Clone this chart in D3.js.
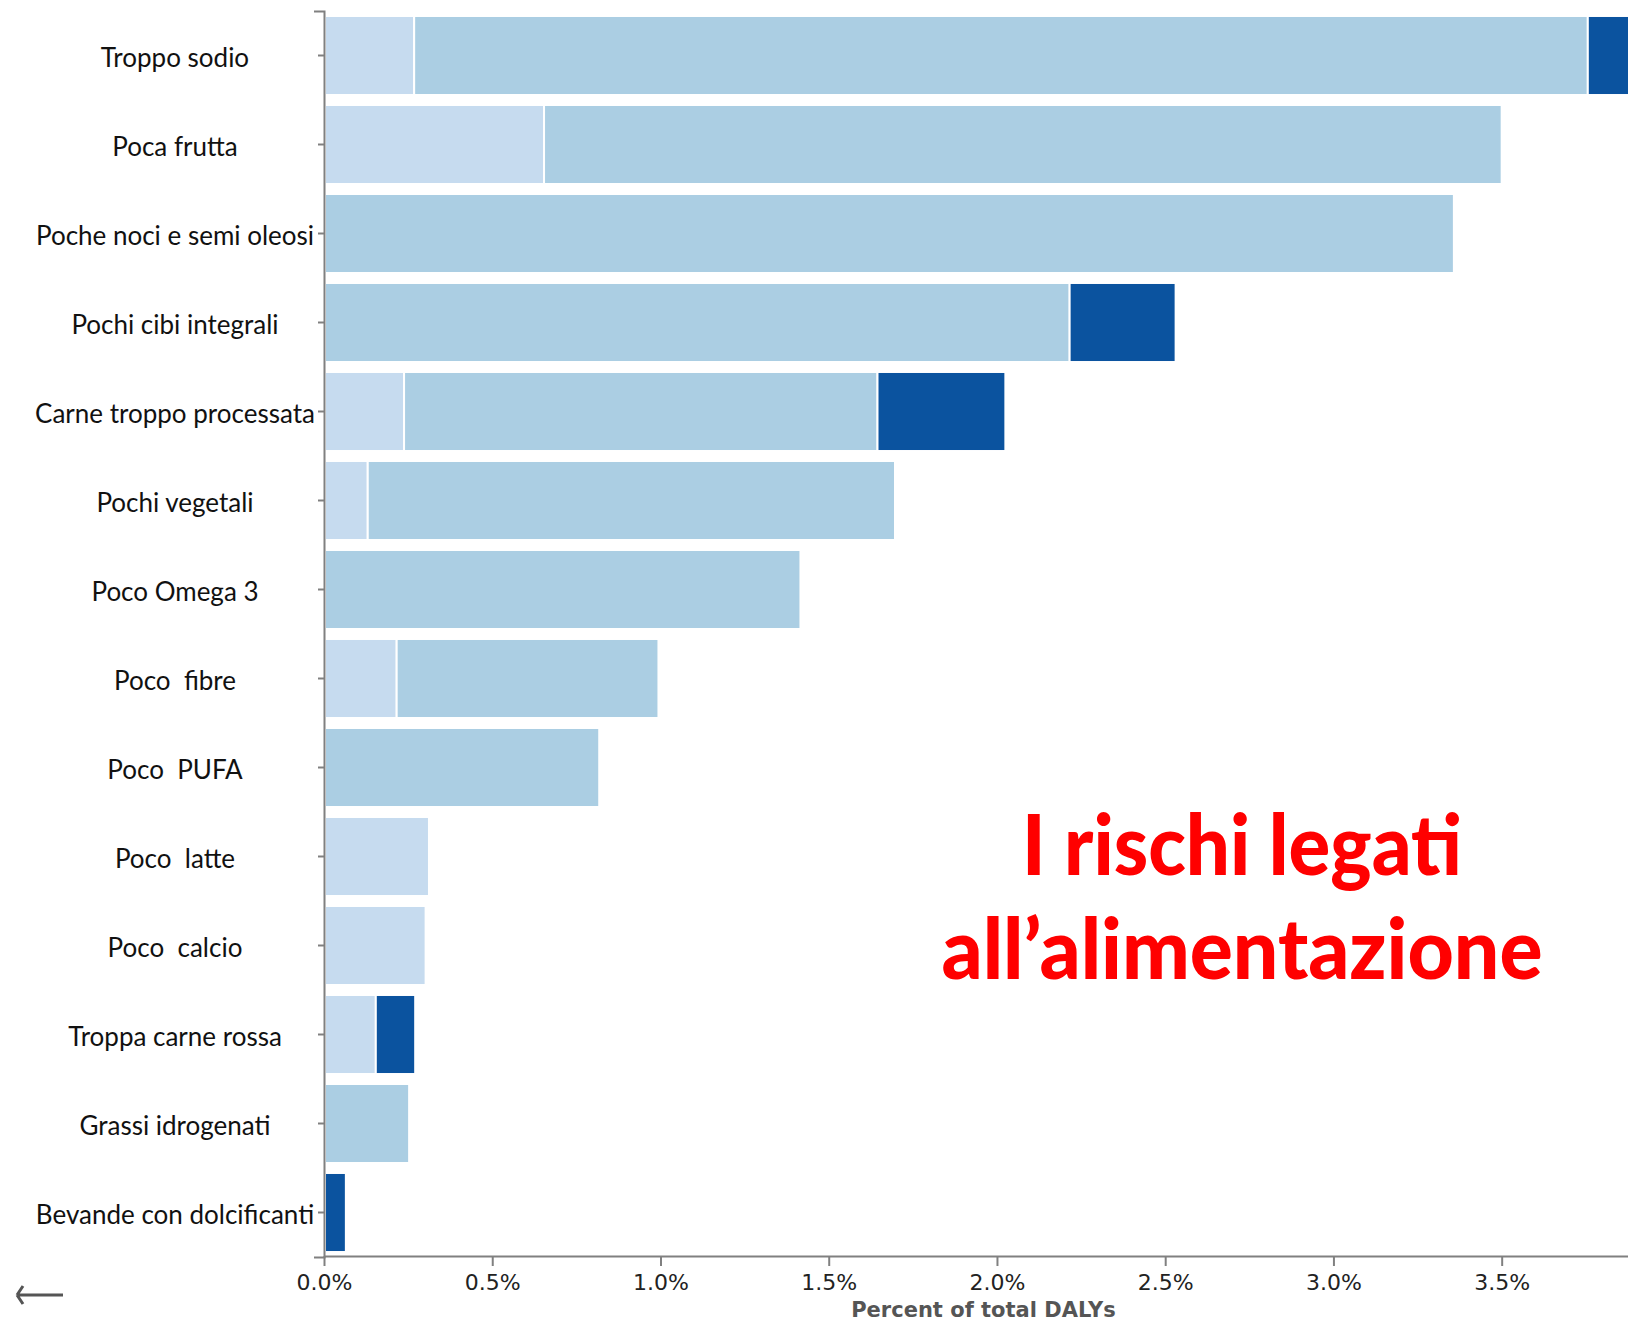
<!DOCTYPE html>
<html>
<head>
<meta charset="utf-8">
<script src="https://cdn.jsdelivr.net/npm/d3@7"></script>
<style>
  body { margin: 0; background: #fff; }
  .cat { font-family: Lato, sans-serif; font-size: 26px; fill: #111; white-space: pre; }
  .xaxis text { font-family: "DejaVu Sans", Verdana, sans-serif; font-size: 22px; fill: #222; }
  .xaxis path, .xaxis line, .yaxis path, .yaxis line { stroke: #808080; stroke-width: 2px; }
</style>
</head>
<body>
<div id="chart"></div>
<script>
"use strict";

// risk factors, top to bottom
const categories = [
  "Troppo sodio", "Poca frutta", "Poche noci e semi oleosi", "Pochi cibi integrali",
  "Carne troppo processata", "Pochi vegetali", "Poco Omega 3", "Poco  fibre",
  "Poco  PUFA", "Poco  latte", "Poco  calcio", "Troppa carne rossa",
  "Grassi idrogenati", "Bevande con dolcificanti"
];

// percent of total DALYs, one array per stacked segment
const lightPart  = [0.265, 0.651, 0, 0, 0.235, 0.127, 0, 0.213, 0, 0.309, 0.299, 0.151, 0, 0];
const mediumPart = [3.488, 2.846, 3.355, 2.213, 1.407, 1.567, 1.413, 0.778, 0.815, 0, 0, 0, 0.250, 0];
const darkPart   = [0.250, 0, 0, 0.315, 0.380, 0, 0, 0, 0, 0, 0, 0.117, 0, 0.062];

const xTicks = [0, 0.5, 1.0, 1.5, 2.0, 2.5, 3.0, 3.5];
const xTitle = "Percent of total DALYs";
const titleLines = ["I rischi legati", "all\u2019alimentazione"];

const width = 1628, height = 1324;
const keys = ["light", "medium", "dark"];
const colors = { light: "#c6dbef", medium: "#abcee3", dark: "#0b539f" };

// rows for d3.stack
const rows = categories.map((c, i) => ({
  cat: c, light: lightPart[i], medium: mediumPart[i], dark: darkPart[i]
}));

const svg = d3.select("#chart").append("svg")
  .attr("width", width).attr("height", height);

const x = d3.scaleLinear().domain([0, 3.92]).range([324, 1643]);
const y = d3.scaleBand().domain(categories).range([11, 1257])
  .paddingInner(0.112).paddingOuter(0.056);

const series = d3.stack().keys(keys)(rows);

// bars
svg.append("g").selectAll("g")
  .data(series)
  .join("g")
  .attr("fill", s => colors[s.key])
  .selectAll("rect")
  .data(s => s.filter(d => d[1] - d[0] > 0))
  .join("rect")
  .attr("x", d => x(d[0]) + 1)
  .attr("y", d => y(d.data.cat))
  .attr("width", d => x(d[1]) - x(d[0]))
  .attr("height", y.bandwidth())
  .attr("stroke", "#fff")
  .attr("stroke-width", 2);

// y axis (ticks only, labels drawn separately)
svg.append("g")
  .attr("class", "yaxis")
  .attr("transform", "translate(" + x(0) + ",0)")
  .call(d3.axisLeft(y).tickSizeInner(6).tickSizeOuter(10).tickFormat(""));

// x axis
const xAxis = svg.append("g")
  .attr("class", "xaxis")
  .attr("transform", "translate(0," + 1256 + ")")
  .call(d3.axisBottom(x).tickValues(xTicks).tickSize(10).tickSizeOuter(0)
    .tickFormat(d => d.toFixed(1) + "%"));
xAxis.selectAll("text").attr("dy", "0.95em");

svg.append("text")
  .attr("x", (x.range()[0] + x.range()[1]) / 2)
  .attr("y", 1317)
  .attr("text-anchor", "middle")
  .style("font-family", "'DejaVu Sans', Verdana, sans-serif")
  .style("font-weight", "bold")
  .style("font-size", "21px")
  .style("fill", "#555")
  .text(xTitle);

// category labels
svg.append("g").selectAll("text")
  .data(categories)
  .join("text")
  .attr("class", "cat")
  .attr("x", 175)
  .attr("y", d => y(d) + y.bandwidth() / 2 + 11)
  .attr("text-anchor", "middle")
  .text(d => d);

// red overlay title
svg.append("g").selectAll("text")
  .data(titleLines)
  .join("text")
  .attr("x", 1242)
  .attr("y", (d, i) => 875 + i * 104)
  .attr("text-anchor", "middle")
  .attr("textLength", (d, i) => i === 0 ? 440 : 601)
  .attr("lengthAdjust", "spacingAndGlyphs")
  .style("font-family", "Lato, sans-serif")
  .style("font-weight", "900")
  .style("font-size", "83px")
  .style("fill", "#ff0000")
  .text(d => d);

// small back arrow at the bottom left
svg.append("path")
  .attr("d", "M17,1295 H63 M17,1295 l6,-9 M17,1295 l6,9")
  .attr("fill", "none")
  .attr("stroke", "#555")
  .attr("stroke-width", 3);
</script>
</body>
</html>
